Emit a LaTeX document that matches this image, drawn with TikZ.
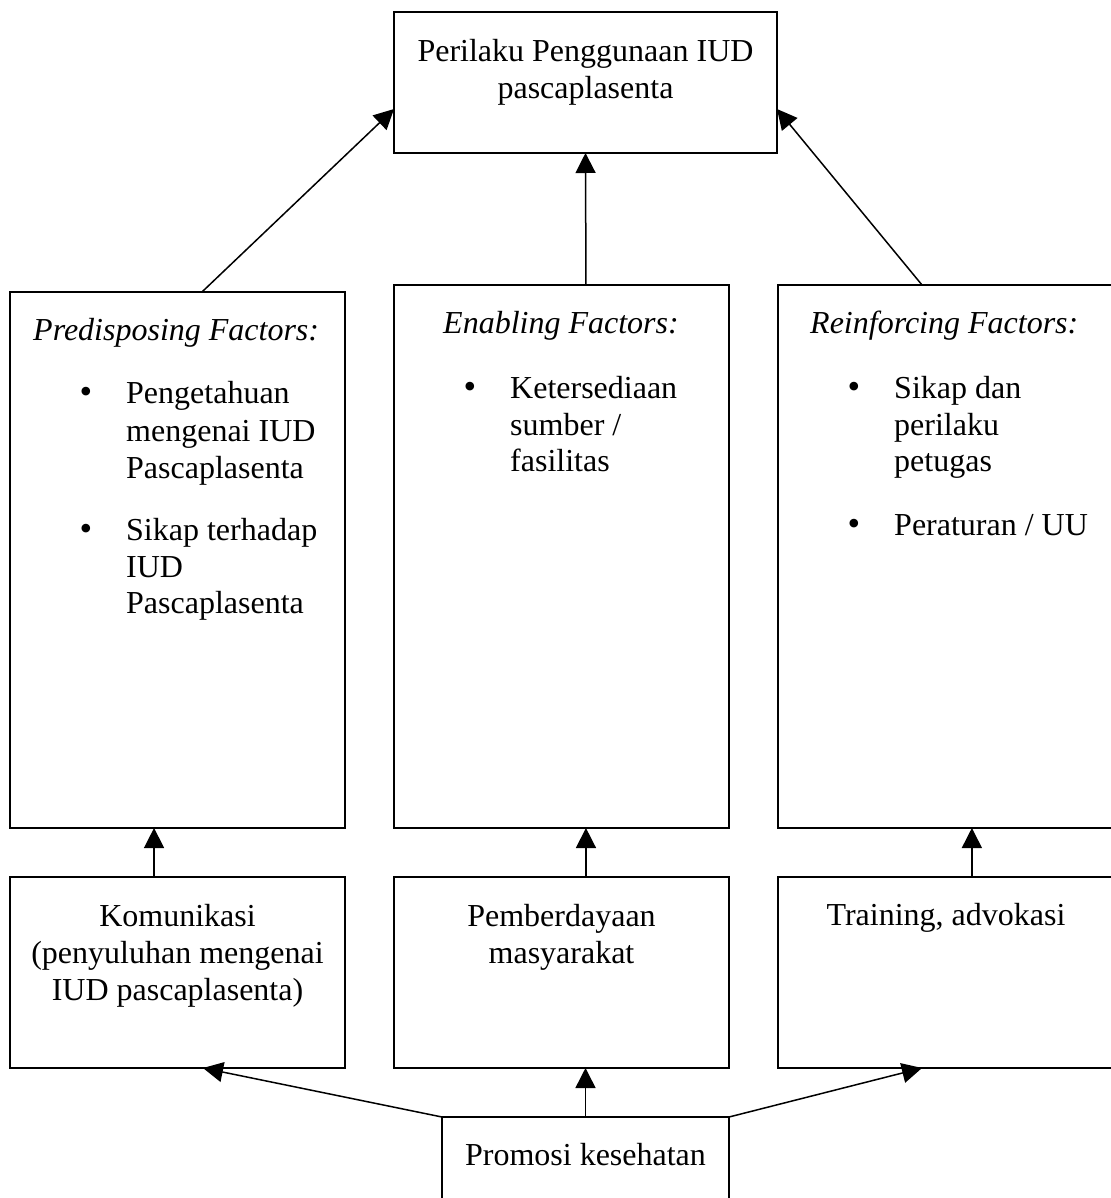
\documentclass[tikz,border=0pt]{standalone}
\usepackage{fontspec}
\setmainfont{Liberation Serif}
\usetikzlibrary{arrows.meta,calc}
\begin{document}
\begin{tikzpicture}[x=1pt,y=-1pt,
  box/.style={draw, line width=1.5pt, anchor=north west, inner sep=0pt, outer sep=0pt},
  txt/.style={inner sep=0pt, font=\fontsize{32}{37}\selectfont, anchor=base},
  ltxt/.style={txt, anchor=base west},
  head/.style={ltxt, font=\fontsize{32}{37}\selectfont\itshape},
  bul/.style={txt, font=\fontsize{36}{37}\selectfont},
  arr/.style={line width=1.5pt, -{Triangle[width=20pt,length=20pt]}}]
\useasboundingbox (0,0) rectangle (1110,1198);
% boxes
\node[box, minimum width=383pt, minimum height=141pt] (top) at (394,12) {};
\node[box, minimum width=335pt, minimum height=536pt] (lb) at (10,292) {};
\node[box, minimum width=335pt, minimum height=543pt] (mb) at (394,285) {};
\node[box, minimum width=336pt, minimum height=543pt] (rb) at (778,285) {};
\node[box, minimum width=335pt, minimum height=191pt] (ll) at (10,877) {};
\node[box, minimum width=335pt, minimum height=191pt] (ml) at (394,877) {};
\node[box, minimum width=336pt, minimum height=191pt] (rl) at (778,877) {};
\node[box, minimum width=287pt, minimum height=130pt] (promo) at (442,1117) {};
% top text
\node[txt] (t1) at (585.5,62) {Perilaku Penggunaan IUD};
\node[txt] (t2) at (585.5,99) {pascaplasenta};
% left factor box
\node[head] (lh) at (33,340) {Predisposing Factors:};
\node[bul] (lb1) at (86,403) {•};
\node[ltxt] (l1) at (126,403) {Pengetahuan};
\node[ltxt] (l2) at (126,441) {mengenai IUD};
\node[ltxt] (l3) at (126,478) {Pascaplasenta};
\node[bul] (lb2) at (86,540) {•};
\node[ltxt] (l4) at (126,540) {Sikap terhadap};
\node[ltxt] (l5) at (126,577) {IUD};
\node[ltxt] (l6) at (126,613) {Pascaplasenta};
% middle factor box
\node[head] (mh) at (443,333) {Enabling Factors:};
\node[bul] (mb1) at (470,398) {•};
\node[ltxt] (m1) at (510,398) {Ketersediaan};
\node[ltxt] (m2) at (510,435.5) {sumber /};
\node[ltxt] (m3) at (510,471.5) {fasilitas};
% right factor box
\node[head] (rh) at (810,333) {Reinforcing Factors:};
\node[bul] (rb1) at (854,398) {•};
\node[ltxt] (r1) at (894,398) {Sikap dan};
\node[ltxt] (r2) at (894,435.5) {perilaku};
\node[ltxt] (r3) at (894,471) {petugas};
\node[bul] (rb2) at (854,535) {•};
\node[ltxt] (r4) at (894,535) {Peraturan / UU};
% lower row
\node[txt] (k1) at (177.5,926) {Komunikasi};
\node[txt] (k2) at (177.5,963) {(penyuluhan mengenai};
\node[txt] (k3) at (177.5,1000) {IUD pascaplasenta)};
\node[txt] (p1) at (561.5,926) {Pemberdayaan};
\node[txt] (p2) at (561.5,963) {masyarakat};
\node[txt] (tr) at (946,925) {Training, advokasi};
\node[txt] (pr) at (585.5,1165) {Promosi kesehatan};
% connectors to top box
\draw[arr] ($(lb.north west)!0.573!(lb.north east)$) -- ($(top.north west)!0.688!(top.south west)$);
\draw[arr] ($(mb.north west)!0.573!(mb.north east)$) -- (top.south);
\draw[arr] ($(rb.north west)!0.4286!(rb.north east)$) -- ($(top.north east)!0.688!(top.south east)$);
% lower to factor boxes
\coordinate (a1) at ($(ll.north west)!0.43!(ll.north east)$);
\coordinate (a2) at ($(ml.north west)!0.573!(ml.north east)$);
\coordinate (a3) at ($(rl.north west)!0.577!(rl.north east)$);
\draw[arr] (a1) -- (a1 |- lb.south);
\draw[arr] (a2) -- (a2 |- mb.south);
\draw[arr] (a3) -- (a3 |- rb.south);
% promo to lower row
\draw[arr] (promo.north west) -- ($(ll.south west)!0.576!(ll.south east)$);
\draw[arr] (promo.north) -- (promo.north |- ml.south);
\draw[arr] (promo.north east) -- ($(rl.south west)!0.4286!(rl.south east)$);
\end{tikzpicture}
\end{document}
